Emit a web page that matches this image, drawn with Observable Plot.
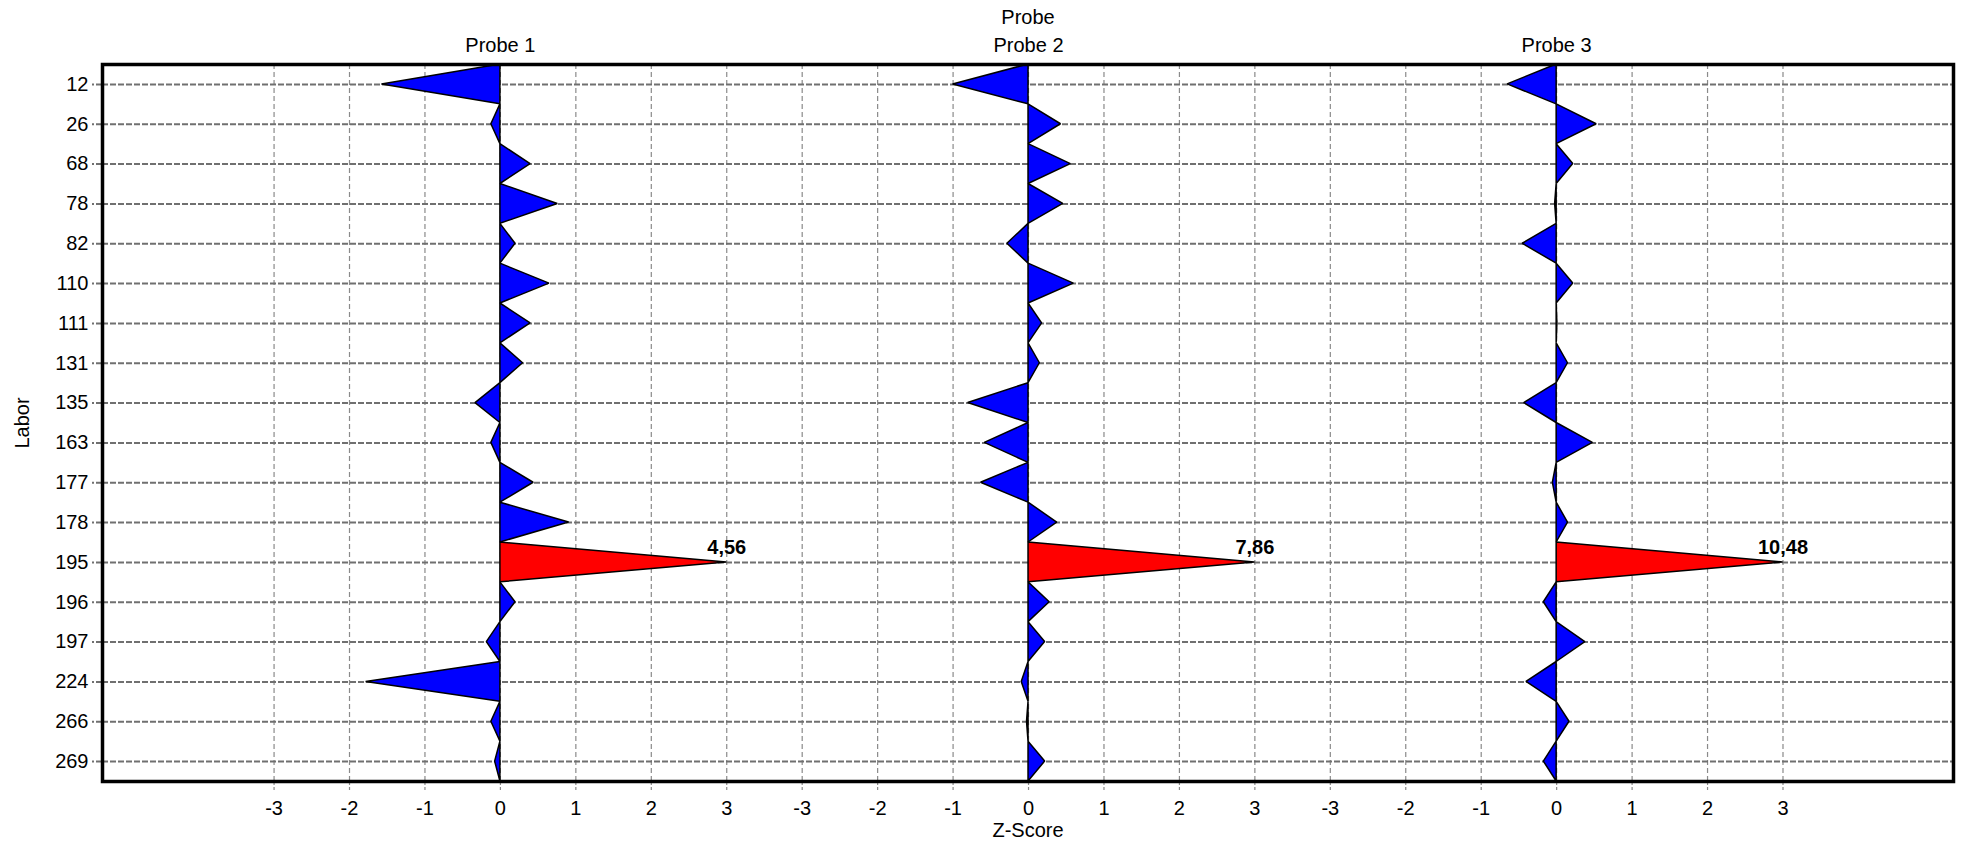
<!DOCTYPE html>
<html>
<head>
<meta charset="utf-8">
<script src="https://cdn.jsdelivr.net/npm/d3@7"></script>
<script src="https://cdn.jsdelivr.net/npm/@observablehq/plot@0.6"></script>
<style>
  html, body { margin: 0; padding: 0; background: #ffffff; }
  #chart svg { display: block; }
</style>
</head>
<body>
<div id="chart"></div>
<script>
// ---- data ----
const labors = ["12","26","68","78","82","110","111","131","135","163","177","178","195","196","197","224","266","269"];
const probes = ["Probe 1","Probe 2","Probe 3"];
const probe1 = [-1.57,-0.12,0.40,0.76,0.20,0.65,0.40,0.30,-0.33,-0.12,0.44,0.91,4.56,0.20,-0.18,-1.78,-0.12,-0.07];
const probe2 = [-1.00,0.43,0.56,0.46,-0.28,0.60,0.18,0.15,-0.80,-0.58,-0.63,0.38,7.86,0.28,0.22,-0.09,-0.02,0.22];
const probe3 = [-0.65,0.53,0.22,-0.02,-0.45,0.22,0.01,0.15,-0.43,0.48,-0.05,0.15,10.48,-0.17,0.38,-0.40,0.17,-0.17];
const zTicks = [-3,-2,-1,0,1,2,3];
const zLimit = 3;

// ---- layout of the three panels on one shared x scale ----
const panelSpan = 7;                 // z-units between panel zero lines
const xExtent = [-5.274, 19.26];

const series = [probe1, probe2, probe3];
const rowIdx = labors.map((_, i) => i);
const tri = [];
const outliers = [];
series.forEach((vals, k) => {
  const base = k * panelSpan;
  vals.forEach((v, i) => {
    const clipped = Math.max(-zLimit, Math.min(zLimit, v));
    const out = Math.abs(v) > zLimit;
    const fill = out ? "#ff0000" : "#0000ff";
    const key = probes[k] + "|" + labors[i];
    tri.push({key, fill, row: i - 0.5, x1: base, x2: base});
    tri.push({key, fill, row: i,       x1: base, x2: base + clipped});
    tri.push({key, fill, row: i + 0.5, x1: base, x2: base});
    if (out) outliers.push({x: base + clipped, row: i, text: v.toFixed(2).replace(".", ",")});
  });
});
const xTickPos = [];
const xTickLabel = new Map();
probes.forEach((_, k) => zTicks.forEach(t => {
  const p = t + k * panelSpan;
  xTickPos.push(p);
  xTickLabel.set(p, String(t));
}));

const FONT = "'Liberation Sans', Arial, Helvetica, sans-serif";

const chart = Plot.plot({
  width: 1962,
  height: 846,
  marginLeft: 102,
  marginRight: 9,
  marginTop: 64,
  marginBottom: 65,
  style: {fontFamily: FONT, fontSize: "20px", background: "#ffffff", color: "#000000"},
  x: {domain: xExtent, axis: null},
  y: {domain: [-0.5, labors.length - 0.5], reverse: true, axis: null},
  color: {type: "identity"},
  marks: [
    Plot.ruleX(xTickPos, {stroke: "#8a8a8a", strokeWidth: 1.2, strokeDasharray: "5,3"}),
    Plot.ruleY(rowIdx, {stroke: "#707070", strokeWidth: 2, strokeDasharray: "6,2"}),
    Plot.axisY(rowIdx, {
      tickFormat: d => labors[d], tickSize: 10, tickPadding: 4,
      stroke: "#707070", strokeWidth: 2, strokeDasharray: "6,2",
      fontSize: 20, label: null
    }),
    Plot.axisX(xTickPos, {
      tickFormat: d => xTickLabel.get(d), tickSize: 9, tickPadding: 10,
      stroke: "#8a8a8a", strokeWidth: 1.2, strokeDasharray: "4,2",
      fontSize: 20, label: null
    }),
    Plot.areaX(tri, {
      y: "row", x1: "x1", x2: "x2", z: "key",
      fill: "fill", stroke: "#000000", strokeWidth: 1.5, strokeLinejoin: "miter"
    }),
    Plot.text(outliers, {x: "x", y: "row", text: "text", fontWeight: "bold", fontSize: 20, dy: -14.5}),
    Plot.text(probes, {x: (d, k) => k * panelSpan, text: d => d, frameAnchor: "top", lineAnchor: "middle", dy: -19, fontSize: 20}),
    Plot.text(["Probe"], {text: d => d, frameAnchor: "top", lineAnchor: "middle", textAnchor: "middle", dy: -46.5, fontSize: 20}),
    Plot.text(["Labor"], {text: d => d, frameAnchor: "left", lineAnchor: "middle", textAnchor: "middle", dx: -80, rotate: -90, fontSize: 20}),
    Plot.text(["Z-Score"], {text: d => d, frameAnchor: "bottom", lineAnchor: "middle", textAnchor: "middle", dy: 49, fontSize: 20}),
    Plot.frame({stroke: "#000000", strokeWidth: 3.5})
  ]
});
document.getElementById("chart").appendChild(chart);
</script>
</body>
</html>
